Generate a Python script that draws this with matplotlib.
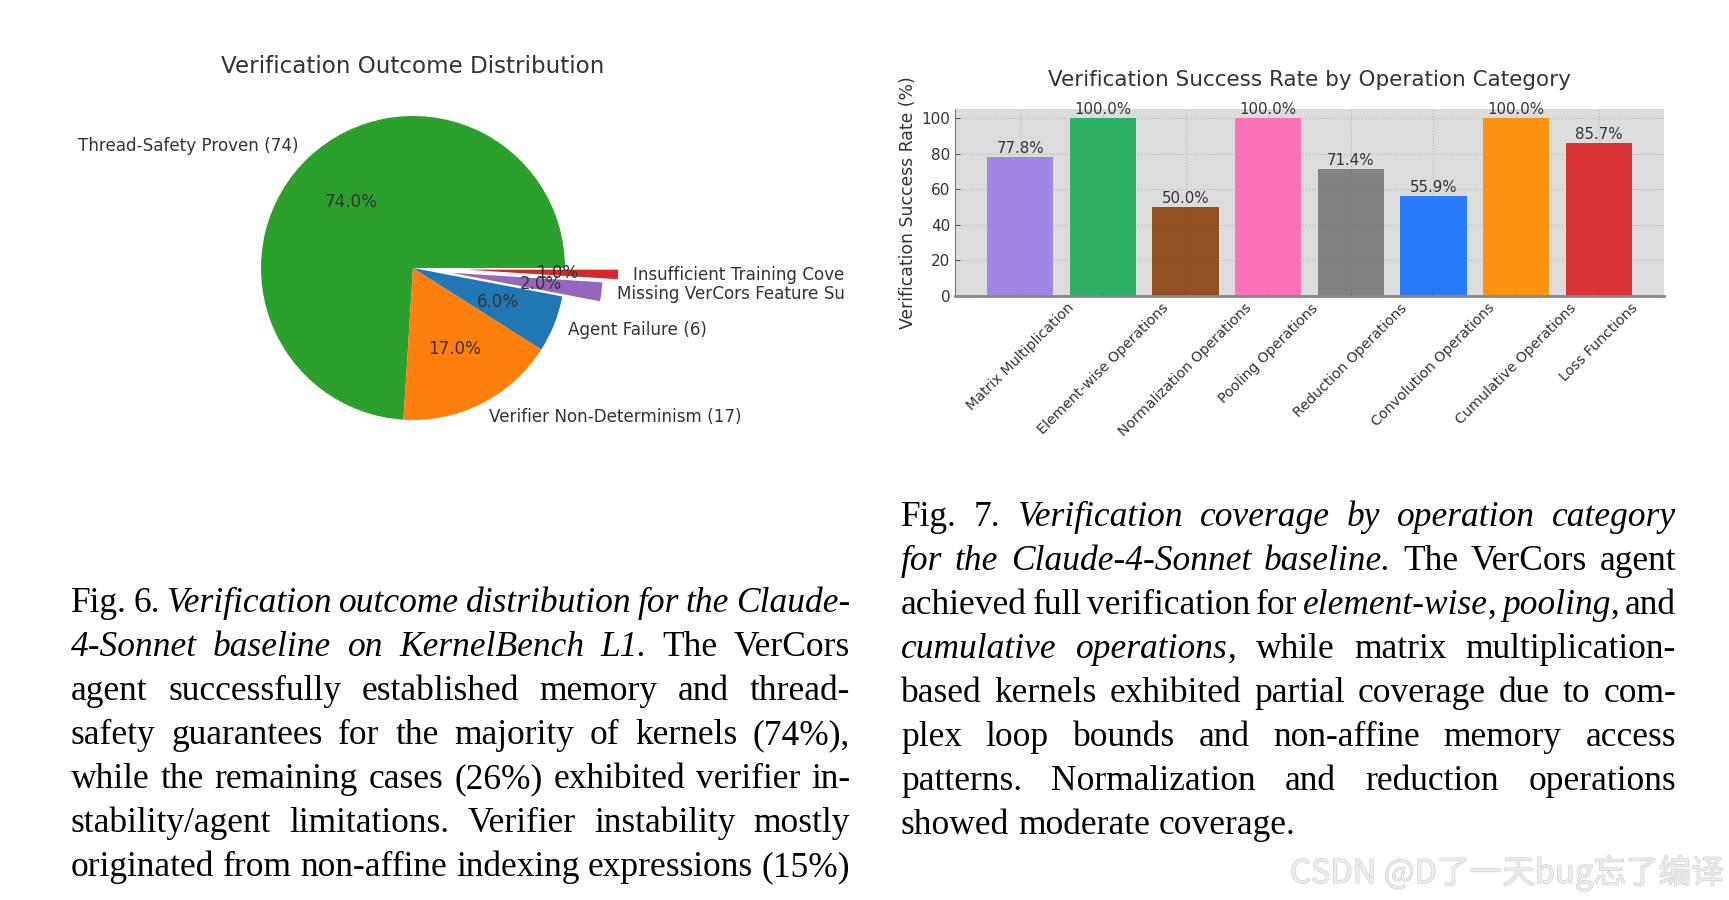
import matplotlib
matplotlib.use('Agg')
import matplotlib.pyplot as plt
import matplotlib.patheffects as pe
from matplotlib.transforms import Bbox, IdentityTransform

W, H = 1729, 900

# pie chart data
outcomes = ['Thread-Safety Proven', 'Verifier Non-Determinism', 'Agent Failure',
            'Missing VerCors Feature Support', 'Insufficient Training Coverage']
counts = [74, 17, 6, 2, 1]
pie_colors = ['#2ca02c', '#ff7f0e', '#1f77b4', '#9467bd', '#d62728']
pie_explode = [0, 0, 0, 0.25, 0.35]

# bar chart data
categories = ['Matrix Multiplication', 'Element-wise Operations', 'Normalization Operations',
              'Pooling Operations', 'Reduction Operations', 'Convolution Operations',
              'Cumulative Operations', 'Loss Functions']
success_rate = [77.8, 100.0, 50.0, 100.0, 71.4, 55.9, 100.0, 85.7]
bar_colors = ['#9a7fe6', '#1fad5c', '#8b4513', '#ff69b4', '#7a7a7a', '#1a73ff', '#ff8c00', '#d92626']

# caption text, (text, italic) chunks per line
caption6 = [
    [('Fig. 6. ', False), ('Verification outcome distribution for the Claude-', True)],
    [('4-Sonnet baseline on KernelBench L1.', True), (' The VerCors', False)],
    [('agent successfully established memory and thread-', False)],
    [('safety guarantees for the majority of kernels (74%),', False)],
    [('while the remaining cases (26%) exhibited verifier in-', False)],
    [('stability/agent limitations. Verifier instability mostly', False)],
    [('originated from non-affine indexing expressions (15%)', False)],
]
caption7 = [
    [('Fig. 7. ', False), ('Verification coverage by operation category', True)],
    [('for the Claude-4-Sonnet baseline.', True), (' The VerCors agent', False)],
    [('achieved full verification for ', False), ('element-wise', True), (', ', False),
     ('pooling', True), (', and', False)],
    [('cumulative operations', True), (', while matrix multiplication-', False)],
    [('based kernels exhibited partial coverage due to com-', False)],
    [('plex loop bounds and non-affine memory access', False)],
    [('patterns. Normalization and reduction operations', False)],
    [('showed moderate coverage.', False)],
]

fig = plt.figure(figsize=(W / 100, H / 100), dpi=100)
renderer = fig.canvas.get_renderer()


def box(l, t, r, b):
    return [l / W, 1 - b / H, (r - l) / W, (b - t) / H]


# ---- pie ----
ax1 = fig.add_axes(box(223, 78, 603, 458))
wedges, texts, autotexts = ax1.pie(
    counts, labels=[f'{o} ({c})' for o, c in zip(outcomes, counts)],
    colors=pie_colors, explode=pie_explode, autopct='%1.1f%%', startangle=0,
    textprops={'fontsize': 12.1, 'color': '#333333'})
ax1.set_title('Verification Outcome Distribution', fontsize=16.6, color='#333333', pad=3.6)
clip = Bbox.from_extents(0, 0, 844, H)
for t in texts + autotexts:
    t.set_clip_box(clip)
    t.set_clip_on(True)

# ---- bars ----
ax2 = fig.add_axes(box(955, 109, 1664, 296))
ax2.set_facecolor('#dcdcdc')
bars = ax2.bar(categories, success_rate, color=bar_colors, alpha=0.92, width=0.8)
ax2.grid(True, linestyle=':', color='#b8b8b8', linewidth=0.8)
ax2.set_axisbelow(True)
for b, v in zip(bars, success_rate):
    ax2.text(b.get_x() + b.get_width() / 2, v + 0.6, f'{v:.1f}%', ha='center', va='bottom',
             fontsize=10.8, color='#333333')
ax2.set_title('Verification Success Rate by Operation Category', fontsize=15.5,
              color='#333333', pad=16.5)
ax2.set_ylabel('Verification Success Rate (%)', fontsize=12.4, color='#333333', labelpad=3)
ax2.tick_params(direction='in', length=3.5, colors='#555555', labelcolor='#333333')
ax2.tick_params(axis='y', labelsize=11)
ax2.tick_params(axis='x', labelsize=10.3)
plt.setp(ax2.get_xticklabels(), rotation=45)
for s in ['top', 'right']:
    ax2.spines[s].set_visible(False)
ax2.spines['bottom'].set_color('#888888')
ax2.spines['bottom'].set_linewidth(2)
ax2.spines['left'].set_color('#777777')


# ---- captions ----
def split_words(chunks):
    words = []
    new_word = True
    for txt, it in chunks:
        parts = txt.split(' ')
        for i, p in enumerate(parts):
            if i > 0:
                new_word = True
            if p == '':
                continue
            if new_word:
                words.append([])
                new_word = False
            words[-1].append((p, it))
    return words


def draw_par(lines, x0, x1, y0, dy, size, justify_last):
    space = size * 100 / 72 * 0.25
    for i, chunks in enumerate(lines):
        measured = []
        for w in split_words(chunks):
            pieces = []
            wid = 0
            for txt, it in w:
                t = fig.text(0, 0, txt, fontsize=size, family='Liberation Serif',
                             style='italic' if it else 'normal', color='black',
                             transform=IdentityTransform(), ha='left', va='baseline')
                pieces.append((t, wid))
                wid += t.get_window_extent(renderer).width
            measured.append((pieces, wid))
        total = sum(m[1] for m in measured)
        if i == len(lines) - 1 and not justify_last:
            gap = space
        else:
            gap = (x1 - x0 - total) / (len(measured) - 1)
        x = x0
        yb = H - (y0 + i * dy)
        for pieces, wid in measured:
            for t, off in pieces:
                t.set_position((x + off, yb))
            x += wid + gap


draw_par(caption6, 71, 850, 612, 44, 25.5, True)
draw_par(caption7, 901, 1676, 526, 44, 25.5, False)

fig.text(1290, H - 883, 'CSDN @D了一天bug忘了编译', fontsize=23.5,
         family=['Noto Sans CJK SC', 'DejaVu Sans'], color='#ececec',
         transform=IdentityTransform(), ha='left', va='baseline',
         path_effects=[pe.withStroke(linewidth=0.8, foreground='#c8c8c8')])

fig.savefig('out.png', dpi=100)
